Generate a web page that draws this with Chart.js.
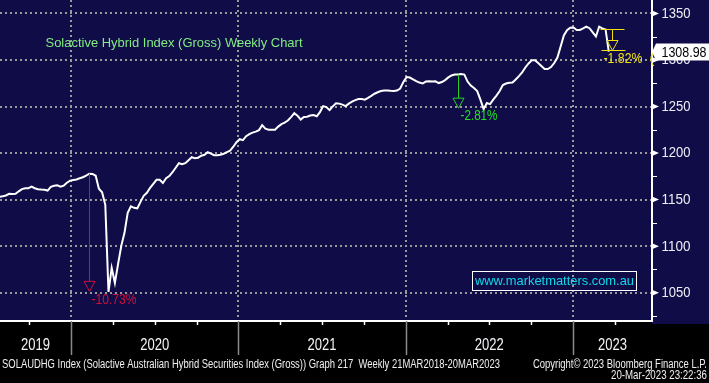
<!DOCTYPE html>
<html><head><meta charset="utf-8">
<script src="https://cdn.jsdelivr.net/npm/chart.js@4.4.1/dist/chart.umd.min.js"></script>
<style>html,body{margin:0;padding:0;background:#000;}canvas{display:block;}</style>
</head><body>
<canvas id="c" width="709" height="383"></canvas>
<script>
// ---------- data ----------
const startDate = '2019-07-29'; // first weekly observation shown
const weeklyValues = [
  1153.0,1153.6,1154.4,1156.2,1155.9,1156.2,1158.9,1161.3,1162.2,1162.2,
  1164.0,1162.2,1161.1,1160.8,1160.6,1159.7,1163.8,1164.9,1165.4,1163.8,
  1164.9,1168.1,1170.3,1171.0,1171.6,1172.9,1174.0,1175.8,1177.8,1177.5,
  1175.6,1161.6,1157.9,1144.4,1050.8,1076.6,1060.5,1080.9,1100.3,1114.3,
  1135.8,1142.8,1141.2,1140.6,1147.6,1154.0,1157.3,1162.7,1167.0,1171.3,
  1171.3,1167.8,1172.9,1175.3,1179.4,1184.2,1189.1,1188.0,1189.1,1192.3,
  1195.5,1194.5,1195.0,1197.1,1198.2,1200.9,1199.3,1197.7,1197.7,1198.2,
  1199.3,1200.9,1202.5,1206.8,1211.7,1214.9,1213.8,1218.1,1220.3,1221.9,
  1223.0,1224.6,1230.0,1226.2,1225.1,1225.1,1225.1,1228.4,1231.1,1232.7,
  1235.0,1238.6,1242.9,1240.2,1235.9,1238.8,1239.1,1240.4,1240.8,1239.5,
  1244.0,1250.4,1249.4,1246.1,1250.2,1253.5,1253.1,1252.0,1250.4,1253.1,
  1255.3,1256.9,1258.0,1258.0,1257.4,1259.3,1261.4,1263.7,1265.3,1266.6,
  1267.3,1267.3,1266.9,1266.6,1267.1,1269.3,1276.3,1281.6,1281.1,1279.2,
  1277.3,1275.7,1274.7,1276.8,1277.0,1276.8,1277.1,1275.2,1276.3,1278.4,
  1281.3,1283.3,1284.3,1284.3,1284.9,1284.3,1276.8,1272.5,1269.8,1266.6,
  1257.4,1247.2,1253.7,1252.6,1257.4,1261.7,1266.6,1273.0,1274.7,1275.4,
  1275.7,1279.0,1282.7,1286.7,1291.9,1296.2,1299.6,1299.7,1296.7,1293.5,
  1290.3,1290.3,1292.4,1296.7,1302.6,1314.5,1326.3,1332.0,1334.6,1334.9,
  1332.2,1332.2,1333.9,1335.7,1334.1,1329.6,1325.2,1335.7,1333.9,1332.8,
  1308.98
];
const yearLabels = ['2019','2020','2021','2022','2023'];
const yearBoundaries = [2020,2021,2022,2023];
const yTickValues = [1050,1100,1150,1200,1250,1300,1350];
const yMinorValues = [1025,1075,1125,1175,1225,1275,1325];
const drawdownPeakIdx = [28,143];
const drawdownPct = [-10.73,-2.81];
const lastDrawdownPct = -1.82;
const titleText = 'Solactive Hybrid Index (Gross) Weekly Chart';
const watermarkText = 'www.marketmatters.com.au';
const footerLeft = 'SOLAUDHG Index (Solactive Australian Hybrid Securities Index (Gross)) Graph 217  Weekly 21MAR2018-20MAR2023';
const footerRight1 = 'Copyright\u00A9 2023 Bloomberg Finance L.P.';
const footerRight2 = '20-Mar-2023 23:22:36';

// ---------- helpers ----------
function toYear(d){const y=d.getUTCFullYear();const s=Date.UTC(y,0,1),e=Date.UTC(y+1,0,1);return y+(d.getTime()-s)/(e-s);}
const t0 = Date.parse(startDate+'T00:00:00Z');
const points = weeklyValues.map((v,i)=>({x:toYear(new Date(t0+i*7*864e5)),y:v}));

const NAVY='#100c48';
const FONT='"Liberation Sans", Arial, sans-serif';
function txt(ctx,s,x,y,o){
  ctx.save();ctx.font=o.font;ctx.fillStyle=o.color;ctx.textAlign=o.align||'left';ctx.textBaseline='middle';
  if(o.maxWidth)ctx.fillText(s,x,y,o.maxWidth);else ctx.fillText(s,x,y);
  ctx.restore();
}
function tri(ctx,x,yTip,w,h,color){
  ctx.save();ctx.strokeStyle=color;ctx.lineWidth=1;ctx.beginPath();
  ctx.moveTo(x-w/2,yTip-h);ctx.lineTo(x+w/2,yTip-h);ctx.lineTo(x,yTip);ctx.closePath();ctx.stroke();ctx.restore();
}
function line(ctx,x1,y1,x2,y2,color,w){
  ctx.save();ctx.strokeStyle=color;ctx.lineWidth=w||1;ctx.beginPath();ctx.moveTo(x1,y1);ctx.lineTo(x2,y2);ctx.stroke();ctx.restore();
}

const bbg = {
  id:'bbg',
  beforeDraw(chart){
    const {ctx,chartArea:a}=chart;
    ctx.save();
    ctx.fillStyle='#000';ctx.fillRect(0,0,chart.width,chart.height);
    ctx.fillStyle=NAVY;ctx.fillRect(0,0,chart.width,a.bottom);
    ctx.fillRect(a.right,a.bottom,chart.width-a.right,3);
    ctx.restore();
  },
  afterDatasetsDraw(chart){
    const {ctx}=chart;const xs=chart.scales.x, ys=chart.scales.y;
    const cols=[{line:'#d0103a',text:'#d0103a'},{line:'#22d022',text:'#22e022'}];
    drawdownPeakIdx.forEach((idx,k)=>{
      const p=points[idx];const x=Math.round(xs.getPixelForValue(p.x))+0.5;
      const yPeak=ys.getPixelForValue(p.y);
      const yTip=ys.getPixelForValue(p.y*(1+drawdownPct[k]/100));
      line(ctx,x,yPeak,x,yTip-10,cols[k].line,1);
      tri(ctx,x,yTip,11,10,cols[k].line);
      txt(ctx,drawdownPct[k].toFixed(2)+'%',x+2,yTip+8,{font:'15px '+FONT,color:cols[k].text,maxWidth:k===0?45:37});
    });
    // last-bar drawdown marker
    const last=points[points.length-1];
    const xA=Math.round(xs.getPixelForValue(last.x)+3.5)+0.5;
    const yTop=Math.round(ys.getPixelForValue(last.y/(1+lastDrawdownPct/100)))+0.5;
    const yBot=Math.round(ys.getPixelForValue(last.y)-2)+0.5;
    const Y='#f0e010';
    line(ctx,xA-12,yTop,xA+12,yTop,Y,1);
    line(ctx,xA-11,yBot,xA+13,yBot,Y,1);
    line(ctx,xA,yTop,xA,yBot-10,Y,1);
    tri(ctx,xA,yBot,11,10,Y);
    txt(ctx,lastDrawdownPct.toFixed(2)+'%',xA-9,yBot+8,{font:'15px '+FONT,color:Y,maxWidth:39});
    txt(ctx,'(',xA+37,yBot+8,{font:'15px '+FONT,color:Y});
  },
  afterDraw(chart){
    const {ctx,chartArea:a}=chart;const xs=chart.scales.x, ys=chart.scales.y;
    // title
    txt(ctx,titleText,45.5,43,{font:'13px '+FONT,color:'#82ec82',maxWidth:257});
    // watermark
    ctx.save();ctx.strokeStyle='#ffffff';ctx.lineWidth=1;ctx.strokeRect(472.5,271.5,164,19);ctx.restore();
    txt(ctx,watermarkText,554.5,281.5,{font:'13.5px '+FONT,color:'#10d8e8',align:'center',maxWidth:159});
    // y axis markers + labels
    ctx.save();ctx.fillStyle='#ffffff';
    yTickValues.forEach(v=>{const y=ys.getPixelForValue(v);ctx.beginPath();ctx.moveTo(a.right,y-3);ctx.lineTo(a.right+7,y);ctx.lineTo(a.right,y+3);ctx.closePath();ctx.fill();});
    ctx.restore();
    yMinorValues.forEach(v=>{const y=Math.round(ys.getPixelForValue(v))+0.5;line(ctx,a.right,y,a.right+5,y,'#ffffff',1);});
    yTickValues.forEach(v=>{txt(ctx,String(v),a.right+9.5,ys.getPixelForValue(v)+0.5,{font:'14px '+FONT,color:'#eeeef4',maxWidth:29});});
    // x axis: year separators, quarter ticks, labels
    yearBoundaries.forEach(yv=>{const x=Math.round(xs.getPixelForValue(yv))+0.5;line(ctx,x,a.bottom,x,a.bottom+34,'#8a8a8a',1.5);});
    for(let yv=2019;yv<=2023;yv++){[0.25,0.5,0.75].forEach(q=>{const t=yv+q;if(t>xs.min&&t<xs.max){const x=Math.round(xs.getPixelForValue(t))+0.5;line(ctx,x,a.bottom,x,a.bottom+4,'#ffffff',1.5);}});}
    yearLabels.forEach((lab,k)=>{const yv=+lab;const l=xs.getPixelForValue(Math.max(yv,xs.min)),r=xs.getPixelForValue(Math.min(yv+1,xs.max));
      txt(ctx,lab,(l+r)/2,346,{font:'16px '+FONT,color:'#f4f4f8',align:'center',maxWidth:29});});
    // footer
    txt(ctx,footerLeft,2,364.5,{font:'12px '+FONT,color:'#f0f0f0',maxWidth:498});
    txt(ctx,footerRight1,707,364.5,{font:'12px '+FONT,color:'#f0f0f0',align:'right',maxWidth:174});
    txt(ctx,footerRight2,707,376,{font:'12px '+FONT,color:'#f0f0f0',align:'right',maxWidth:96});
    // last price box
    const last=points[points.length-1];const yl=Math.round(ys.getPixelForValue(last.y));
    ctx.save();ctx.fillStyle='#ffffff';ctx.beginPath();
    ctx.moveTo(a.right,yl);ctx.lineTo(a.right+4,yl-8.5);ctx.lineTo(chart.width,yl-8.5);ctx.lineTo(chart.width,yl+8.5);ctx.lineTo(a.right+4,yl+8.5);ctx.closePath();ctx.fill();ctx.restore();
    txt(ctx,last.y.toFixed(2),661.5,yl+0.5,{font:'15px '+FONT,color:'#000000',maxWidth:45});
  }
};

new Chart(document.getElementById('c'),{
  type:'line',
  data:{datasets:[{data:points,borderColor:'#ffffff',borderWidth:2,pointRadius:0,tension:0,fill:false}]},
  options:{
    responsive:false,animation:false,devicePixelRatio:1,
    parsing:false,
    layout:{padding:0},
    plugins:{legend:{display:false},tooltip:{enabled:false}},
    scales:{
      x:{type:'linear',position:'bottom',min:2019.5757,max:2023.472,
        afterBuildTicks:s=>{s.ticks=yearBoundaries.map(v=>({value:v}));},
        afterFit:s=>{s.height=62;},
        ticks:{display:false},
        grid:{color:'#9a9a9a',lineWidth:2,drawTicks:false},
        border:{display:true,color:'#ffffff',width:2,dash:[2,3]}},
      y:{type:'linear',position:'right',min:1019.6,max:1364.4,
        afterBuildTicks:s=>{s.ticks=yTickValues.map(v=>({value:v}));},
        afterFit:s=>{s.width=57;},
        ticks:{display:false},
        grid:{color:'#9a9a9a',lineWidth:2,drawTicks:false},
        border:{display:true,color:'#ffffff',width:2,dash:[2,3]}}
    }
  },
  plugins:[bbg]
});
</script>
</body></html>
